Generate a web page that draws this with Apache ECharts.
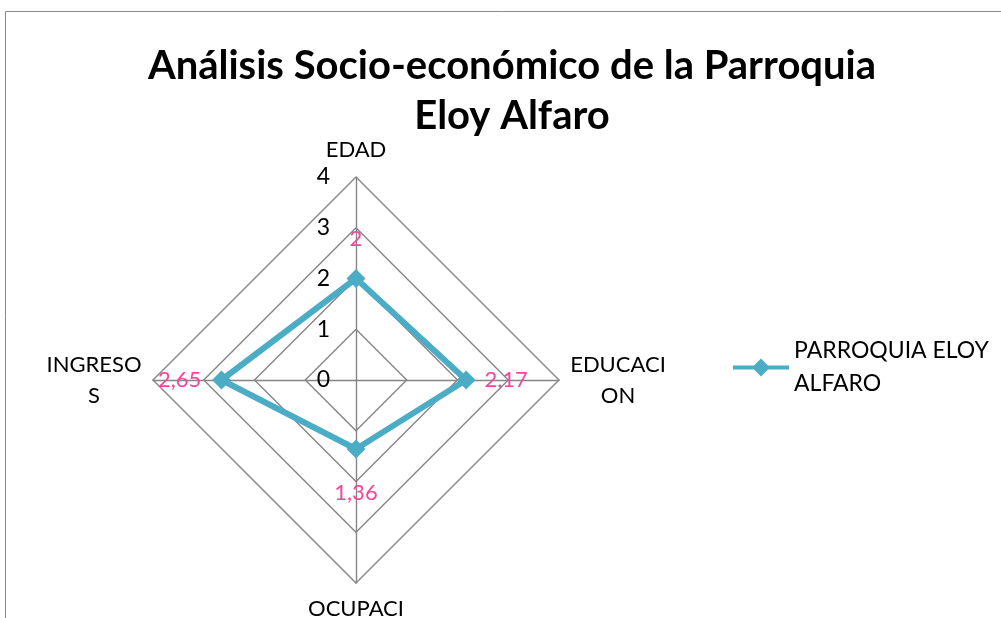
<!DOCTYPE html>
<html>
<head>
<meta charset="utf-8">
<script src="https://cdn.jsdelivr.net/npm/echarts@6/dist/echarts.min.js"></script>
<style>
  html, body { margin: 0; padding: 0; background: #fff; }
  #main { width: 1001px; height: 618px; }
</style>
</head>
<body>
<div id="main"></div>
<script>
var indicatorNames = ['EDAD', 'INGRESOS', 'OCUPACION', 'EDUCACION'];
var indicatorLabels = ['EDAD', 'INGRESO\nS', 'OCUPACI\nON', 'EDUCACI\nON'];
var seriesName = 'PARROQUIA ELOY ALFARO';
var values = [2, 2.65, 1.36, 2.17];
var axisMax = 4;

var myChart = echarts.init(document.getElementById('main'));

// each value label sits ~40px outside its point, pushed by padding
var pink = '#f7449c';
var richLabel = {
  up:    { padding: [0, 0, 80, 0], color: pink, fontSize: 22, fontFamily: 'Lato' },
  left:  { padding: [0, 84, 0, 0], color: pink, fontSize: 22, fontFamily: 'Lato' },
  down:  { padding: [88, 0, 0, 0], color: pink, fontSize: 22, fontFamily: 'Lato' },
  right: { padding: [0, 0, 0, 80], color: pink, fontSize: 22, fontFamily: 'Lato' }
};
var dirs = ['up', 'left', 'down', 'right'];

var option = {
  backgroundColor: '#fff',
  title: {
    text: 'Análisis Socio-económico de la Parroquia\nEloy Alfaro',
    left: 507,
    textAlign: 'center',
    top: 36,
    textStyle: {
      fontFamily: 'Lato',
      fontWeight: 'bold',
      fontSize: 40,
      lineHeight: 50,
      color: '#000'
    }
  },
  legend: {
    left: 733,
    top: 318,
    padding: 0,
    itemWidth: 56,
    itemHeight: 18,
    icon: 'path://M0,7H21L28,0L35,7H56V11H35L28,18L21,11H0Z',
    data: [seriesName],
    formatter: function () { return 'PARROQUIA ELOY\nALFARO'; },
    textStyle: {
      fontFamily: 'Lato',
      fontSize: 23,
      lineHeight: 33,
      padding: [33, 0, 0, 0],
      color: '#000'
    }
  },
  radar: {
    center: [356, 380],
    radius: 203,
    shape: 'polygon',
    startAngle: 90,
    splitNumber: 4,
    nameGap: 10,
    indicator: indicatorNames.map(function (n, i) {
      var ind = { name: n, min: 0, max: axisMax };
      if (i > 0) ind.axisLabel = { show: false };
      return ind;
    }),
    axisName: {
      color: '#000',
      fontFamily: 'Lato',
      fontSize: 22,
      lineHeight: 31,
      formatter: function (name) {
        var lbl = indicatorLabels[indicatorNames.indexOf(name)];
        return lbl.split('\n').map(function (s) { return '{c|' + s + '}'; }).join('\n');
      },
      rich: {
        c: { width: 98, align: 'center', fontFamily: 'Lato', fontSize: 22, lineHeight: 31, color: '#000' }
      }
    },
    axisLine: { lineStyle: { color: '#858585', width: 1.4 } },
    splitLine: { lineStyle: { color: '#858585', width: 1.4 } },
    splitArea: { show: false },
    axisTick: { show: false },
    axisLabel: {
      show: true,
      color: '#000',
      fontFamily: 'Lato',
      fontSize: 23,
      margin: 26
    }
  },
  graphic: [{
    type: 'rect',
    shape: { x: 5.5, y: 11.5, width: 1200, height: 800 },
    style: { fill: 'none', stroke: '#888', lineWidth: 1 },
    silent: true,
    z: -10
  }],
  series: [{
    type: 'radar',
    name: seriesName,
    symbol: 'diamond',
    symbolSize: 19,
    lineStyle: { color: '#4bacc6', width: 6 },
    itemStyle: { color: '#4bacc6' },
    label: {
      show: true,
      position: 'inside',
      formatter: function (p) {
        var i = p.dimensionIndex != null ? p.dimensionIndex : values.indexOf(p.value);
        var v = values[i];
        return '{' + dirs[i] + '|' + String(v).replace('.', ',') + '}';
      },
      rich: richLabel
    },
    data: [{ name: seriesName, value: values }]
  }]
};
myChart.setOption(option);
</script>
</body>
</html>
